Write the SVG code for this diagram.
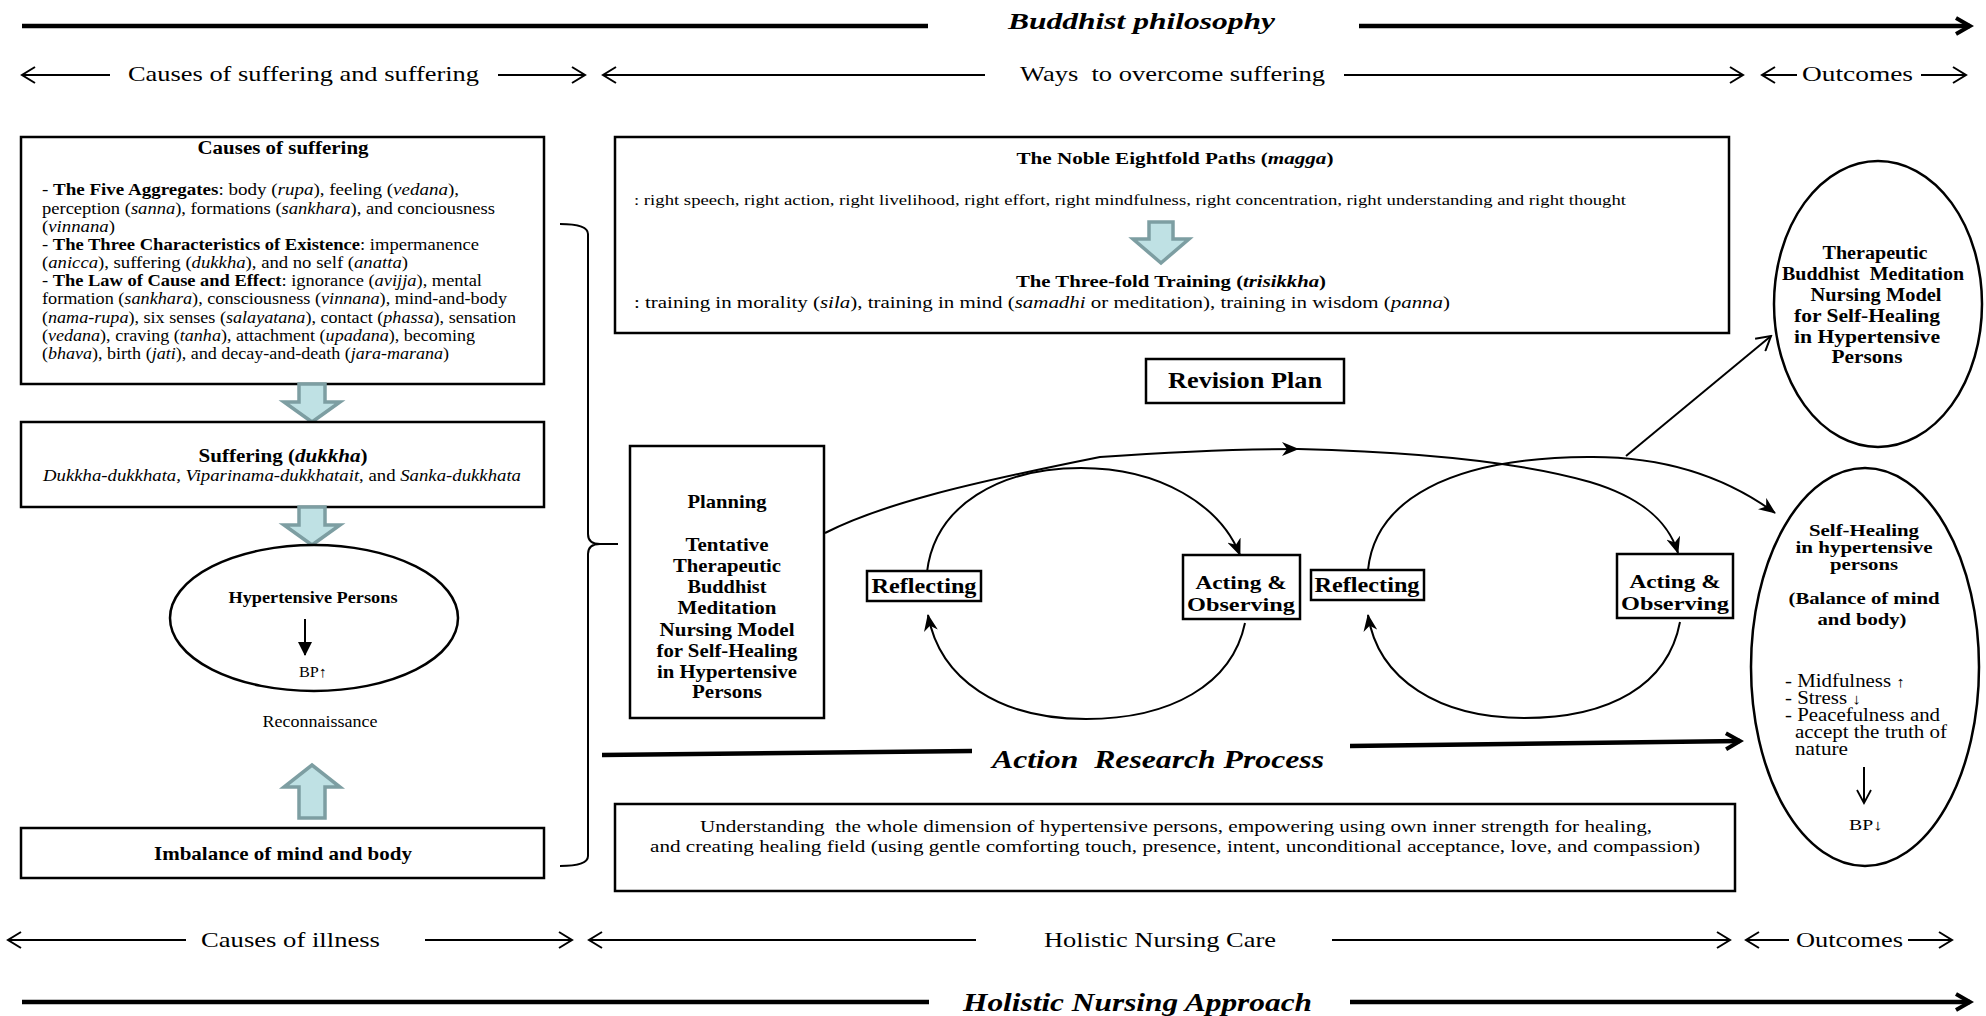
<svg xmlns="http://www.w3.org/2000/svg" width="1986" height="1016" viewBox="0 0 1986 1016">
  <style>
    .t { font-family: "Liberation Serif", "Times New Roman", serif; fill: #000; }
    .b { font-weight: bold; }
    .i { font-style: italic; }
    .c { text-anchor: middle; }
    .box { fill: #fff; stroke: #000; stroke-width: 2.5; }
    .oval { fill: #fff; stroke: #000; stroke-width: 2.5; }
    .ln { stroke: #000; stroke-width: 2; fill: none; }
    .thick { stroke: #000; stroke-width: 4.5; fill: none; }
    .blk { fill: #bfe1e4; stroke: #7d9ea2; stroke-width: 3.5; }
  </style>
  <defs>
    <marker id="chev" viewBox="0 0 16 18" markerWidth="16" markerHeight="18" refX="14" refY="9" orient="auto" markerUnits="userSpaceOnUse">
      <path d="M1,1 L14,9 L1,17" fill="none" stroke="#000" stroke-width="2"/>
    </marker>
    <marker id="chevBold" viewBox="0 0 20 20" markerWidth="20" markerHeight="20" refX="16" refY="10" orient="auto" markerUnits="userSpaceOnUse">
      <path d="M2,2 L16,10 L2,18" fill="none" stroke="#000" stroke-width="4"/>
    </marker>
    <marker id="stealth" viewBox="0 0 17 14" markerWidth="17" markerHeight="14" refX="16" refY="7" orient="auto" markerUnits="userSpaceOnUse">
      <path d="M0,0 L17,7 L0,14 L5,7 Z" fill="#000"/>
    </marker>
    <marker id="openV" viewBox="0 0 18 18" markerWidth="18" markerHeight="18" refX="16" refY="9" orient="auto" markerUnits="userSpaceOnUse">
      <path d="M2,1 L16,9 L2,17" fill="none" stroke="#000" stroke-width="2"/>
    </marker>
    <marker id="smallV" viewBox="0 0 22 16" markerWidth="22" markerHeight="16" refX="14" refY="8" orient="auto" markerUnits="userSpaceOnUse">
      <path d="M1,1 L14,8 L1,15" fill="none" stroke="#000" stroke-width="1.8"/>
    </marker>
    <marker id="solidTri" viewBox="0 0 14 14" markerWidth="14" markerHeight="14" refX="13" refY="7" orient="auto" markerUnits="userSpaceOnUse">
      <path d="M0,0 L14,7 L0,14 Z" fill="#000"/>
    </marker>
  </defs>

  <!-- header band: Buddhist philosophy -->
  <g id="header-buddhist">
    <line class="thick" x1="22" y1="26" x2="928" y2="26"/>
    <text class="t b i" x="1008" y="29" font-size="24" textLength="267" lengthAdjust="spacingAndGlyphs">Buddhist philosophy</text>
    <line class="thick" x1="1359" y1="26" x2="1970" y2="26" marker-end="url(#chevBold)"/>
  </g>

  <!-- phase labels, top row -->
  <g id="phases-top">
    <text class="t" x="128" y="81" font-size="22" textLength="351" lengthAdjust="spacingAndGlyphs">Causes of suffering and suffering</text>
    <text class="t" x="1020" y="81" font-size="22" textLength="305" lengthAdjust="spacingAndGlyphs" xml:space="preserve">Ways  to overcome suffering</text>
    <text class="t" x="1802" y="81" font-size="22" textLength="111" lengthAdjust="spacingAndGlyphs">Outcomes</text>
  </g>

  <!-- left column: causes of suffering -->
  <g id="causes-of-suffering">
    <rect class="box" x="21" y="137" width="523" height="247"/>
    <text class="t b c" x="283" y="154" font-size="18" textLength="171" lengthAdjust="spacingAndGlyphs">Causes of suffering</text>
    <g class="t" font-size="16">
      <text x="42" y="195" textLength="417" lengthAdjust="spacingAndGlyphs">- <tspan class="b">The Five Aggregates</tspan>: body (<tspan class="i">rupa</tspan>), feeling (<tspan class="i">vedana</tspan>),</text>
      <text x="42" y="214" textLength="453" lengthAdjust="spacingAndGlyphs">perception (<tspan class="i">sanna</tspan>), formations (<tspan class="i">sankhara</tspan>), and conciousness</text>
      <text x="42" y="232" textLength="73" lengthAdjust="spacingAndGlyphs">(<tspan class="i">vinnana</tspan>)</text>
      <text x="42" y="250" textLength="437" lengthAdjust="spacingAndGlyphs">- <tspan class="b">The Three Characteristics of Existence</tspan>: impermanence</text>
      <text x="42" y="268" textLength="366" lengthAdjust="spacingAndGlyphs">(<tspan class="i">anicca</tspan>), suffering (<tspan class="i">dukkha</tspan>), and no self (<tspan class="i">anatta</tspan>)</text>
      <text x="42" y="286" textLength="440" lengthAdjust="spacingAndGlyphs">- <tspan class="b">The Law of Cause and Effect</tspan>: ignorance (<tspan class="i">avijja</tspan>), mental</text>
      <text x="42" y="304" textLength="465" lengthAdjust="spacingAndGlyphs">formation (<tspan class="i">sankhara</tspan>), consciousness (<tspan class="i">vinnana</tspan>), mind-and-body</text>
      <text x="42" y="323" textLength="474" lengthAdjust="spacingAndGlyphs">(<tspan class="i">nama-rupa</tspan>), six senses (<tspan class="i">salayatana</tspan>), contact (<tspan class="i">phassa</tspan>), sensation</text>
      <text x="42" y="341" textLength="433" lengthAdjust="spacingAndGlyphs">(<tspan class="i">vedana</tspan>), craving (<tspan class="i">tanha</tspan>), attachment (<tspan class="i">upadana</tspan>), becoming</text>
      <text x="42" y="359" textLength="407" lengthAdjust="spacingAndGlyphs">(<tspan class="i">bhava</tspan>), birth (<tspan class="i">jati</tspan>), and decay-and-death (<tspan class="i">jara-marana</tspan>)</text>
    </g>
  </g>

  <g id="arrow-causes-suffering">
    <path class="blk" d="M299,384 H325 V402 H340 L312,422 L284,402 H299 Z"/>
  </g>

  <g id="suffering">
    <rect class="box" x="21" y="422" width="523" height="85"/>
    <text class="t b c" x="283" y="462" font-size="19" textLength="169" lengthAdjust="spacingAndGlyphs">Suffering (<tspan class="i">dukkha</tspan>)</text>
    <text class="t c" x="282" y="481" font-size="17" textLength="478" lengthAdjust="spacingAndGlyphs"><tspan class="i">Dukkha-dukkhata, Viparinama-dukkhatait</tspan>, and <tspan class="i">Sanka-dukkhata</tspan></text>
  </g>

  <g id="arrow-suffering-persons">
    <path class="blk" d="M299,507 H325 V525 H340 L312,545 L284,525 H299 Z"/>
  </g>

  <g id="hypertensive-persons">
    <ellipse class="oval" cx="314" cy="618" rx="144" ry="73"/>
    <text class="t b c" x="313" y="603" font-size="16.5" textLength="169" lengthAdjust="spacingAndGlyphs">Hypertensive Persons</text>
    <line class="ln" x1="305" y1="619" x2="305" y2="655" marker-end="url(#solidTri)"/>
    <text class="t c" x="313" y="677" font-size="15" textLength="28" lengthAdjust="spacingAndGlyphs">BP<tspan font-weight="bold">↑</tspan></text>
  </g>

  <g id="reconnaissance">
    <text class="t c" x="320" y="727" font-size="16" textLength="115" lengthAdjust="spacingAndGlyphs">Reconnaissance</text>
  </g>

  <g id="arrow-imbalance-up">
    <path class="blk" d="M299,818 H325 V787 H340 L312,765 L284,787 H299 Z"/>
  </g>

  <g id="imbalance">
    <rect class="box" x="21" y="828" width="523" height="50"/>
    <text class="t b c" x="283" y="860" font-size="19" textLength="258" lengthAdjust="spacingAndGlyphs">Imbalance of mind and body</text>
  </g>

  <!-- middle: ways to overcome suffering -->
  <g id="eightfold-path">
    <rect class="box" x="615" y="137" width="1114" height="196"/>
    <text class="t b c" x="1175" y="164" font-size="17" textLength="317" lengthAdjust="spacingAndGlyphs">The Noble Eightfold Paths (<tspan class="i">magga</tspan>)</text>
    <text class="t" x="634" y="205" font-size="15.5" textLength="992" lengthAdjust="spacingAndGlyphs">: right speech, right action, right livelihood, right effort, right mindfulness, right concentration, right understanding and right thought</text>
    <path class="blk" d="M1149,222 H1173 V239 H1189 L1161,263 L1133,239 H1149 Z"/>
    <text class="t b c" x="1171" y="287" font-size="17" textLength="310" lengthAdjust="spacingAndGlyphs">The Three-fold Training (<tspan class="i">trisikkha</tspan>)</text>
    <text class="t" x="634" y="308" font-size="16" textLength="816" lengthAdjust="spacingAndGlyphs">: training in morality (<tspan class="i">sila</tspan>), training in mind (<tspan class="i">samadhi</tspan> or meditation), training in wisdom (<tspan class="i">panna</tspan>)</text>
  </g>

  <g id="revision-plan">
    <rect class="box" x="1146" y="359" width="198" height="44"/>
    <text class="t b c" x="1245" y="388" font-size="24" textLength="154" lengthAdjust="spacingAndGlyphs">Revision Plan</text>
  </g>

  <g id="planning">
    <rect class="box" x="630" y="446" width="194" height="272"/>
    <g class="t b c" font-size="19">
      <text x="727" y="508" textLength="79" lengthAdjust="spacingAndGlyphs">Planning</text>
      <text x="727" y="551" textLength="83" lengthAdjust="spacingAndGlyphs">Tentative</text>
      <text x="727" y="572" textLength="108" lengthAdjust="spacingAndGlyphs">Therapeutic</text>
      <text x="727" y="593" textLength="79" lengthAdjust="spacingAndGlyphs">Buddhist</text>
      <text x="727" y="614" textLength="99" lengthAdjust="spacingAndGlyphs">Meditation</text>
      <text x="727" y="636" textLength="135" lengthAdjust="spacingAndGlyphs">Nursing Model</text>
      <text x="727" y="657" textLength="141" lengthAdjust="spacingAndGlyphs">for Self-Healing</text>
      <text x="727" y="678" textLength="140" lengthAdjust="spacingAndGlyphs">in Hypertensive</text>
      <text x="727" y="698" textLength="70" lengthAdjust="spacingAndGlyphs">Persons</text>
    </g>
  </g>

  <g id="reflecting-1">
    <rect class="box" x="867" y="571" width="114" height="30"/>
    <text class="t b c" x="924" y="593" font-size="21" textLength="105" lengthAdjust="spacingAndGlyphs">Reflecting</text>
  </g>

  <g id="acting-observing-1">
    <rect class="box" x="1183" y="555" width="117" height="64"/>
    <text class="t b c" x="1241" y="589" font-size="19.5" textLength="91" lengthAdjust="spacingAndGlyphs">Acting &amp;</text>
    <text class="t b c" x="1241" y="611" font-size="19.5" textLength="108" lengthAdjust="spacingAndGlyphs">Observing</text>
  </g>

  <g id="reflecting-2">
    <rect class="box" x="1311" y="570" width="113" height="30"/>
    <text class="t b c" x="1367" y="592" font-size="21" textLength="105" lengthAdjust="spacingAndGlyphs">Reflecting</text>
  </g>

  <g id="acting-observing-2">
    <rect class="box" x="1617" y="554" width="116" height="64"/>
    <text class="t b c" x="1675" y="588" font-size="19.5" textLength="91" lengthAdjust="spacingAndGlyphs">Acting &amp;</text>
    <text class="t b c" x="1675" y="610" font-size="19.5" textLength="108" lengthAdjust="spacingAndGlyphs">Observing</text>
  </g>

  <!-- action research process band -->
  <g id="action-research">
    <line class="thick" x1="602" y1="755" x2="972" y2="751"/>
    <text class="t b i" x="992" y="768" font-size="25" textLength="332" lengthAdjust="spacingAndGlyphs" xml:space="preserve">Action  Research Process</text>
    <line class="thick" x1="1350" y1="746" x2="1740" y2="741" marker-end="url(#chevBold)"/>
  </g>

  <g id="holistic-care">
    <rect class="box" x="615" y="804" width="1120" height="87"/>
    <text class="t" x="700" y="832" font-size="17" textLength="952" lengthAdjust="spacingAndGlyphs" xml:space="preserve">Understanding  the whole dimension of hypertensive persons, empowering using own inner strength for healing,</text>
    <text class="t" x="650" y="852" font-size="17" textLength="1050" lengthAdjust="spacingAndGlyphs">and creating healing field (using gentle comforting touch, presence, intent, unconditional acceptance, love, and compassion)</text>
  </g>

  <!-- outcomes -->
  <g id="therapeutic-model">
    <ellipse class="oval" cx="1878" cy="304" rx="104" ry="143"/>
    <g class="t b c" font-size="18">
      <text x="1875" y="259" textLength="105" lengthAdjust="spacingAndGlyphs">Therapeutic</text>
      <text x="1873" y="280" textLength="182" lengthAdjust="spacingAndGlyphs" xml:space="preserve">Buddhist  Meditation</text>
      <text x="1876" y="301" textLength="131" lengthAdjust="spacingAndGlyphs">Nursing Model</text>
      <text x="1867" y="322" textLength="146" lengthAdjust="spacingAndGlyphs">for Self-Healing</text>
      <text x="1867" y="343" textLength="146" lengthAdjust="spacingAndGlyphs">in Hypertensive</text>
      <text x="1867" y="363" textLength="71" lengthAdjust="spacingAndGlyphs">Persons</text>
    </g>
  </g>

  <g id="self-healing">
    <ellipse class="oval" cx="1865" cy="667" rx="114" ry="199"/>
    <g class="t b c" font-size="17">
      <text x="1864" y="536" textLength="110" lengthAdjust="spacingAndGlyphs">Self-Healing</text>
      <text x="1864" y="553" textLength="137" lengthAdjust="spacingAndGlyphs">in hypertensive</text>
      <text x="1864" y="570" textLength="68" lengthAdjust="spacingAndGlyphs">persons</text>
      <text x="1864" y="604" textLength="151" lengthAdjust="spacingAndGlyphs">(Balance of mind</text>
      <text x="1862" y="625" textLength="89" lengthAdjust="spacingAndGlyphs">and body)</text>
    </g>
    <g class="t" font-size="18">
      <text x="1785" y="687" textLength="120" lengthAdjust="spacingAndGlyphs">- Midfulness <tspan font-weight="bold" font-size="15">↑</tspan></text>
      <text x="1785" y="704" textLength="76" lengthAdjust="spacingAndGlyphs">- Stress <tspan font-weight="bold" font-size="15">↓</tspan></text>
      <text x="1785" y="721" textLength="155" lengthAdjust="spacingAndGlyphs">- Peacefulness and</text>
      <text x="1795" y="738" textLength="152" lengthAdjust="spacingAndGlyphs">accept the truth of</text>
      <text x="1795" y="755" textLength="53" lengthAdjust="spacingAndGlyphs">nature</text>
    </g>
    <line class="ln" x1="1864" y1="767" x2="1864" y2="803" marker-end="url(#smallV)"/>
    <text class="t c" x="1866" y="830" font-size="15" textLength="34" lengthAdjust="spacingAndGlyphs">BP<tspan font-weight="bold">↓</tspan></text>
  </g>

  <!-- bottom band: holistic nursing -->
  <g id="phases-bottom">
    <text class="t" x="201" y="947" font-size="22" textLength="179" lengthAdjust="spacingAndGlyphs">Causes of illness</text>
    <text class="t" x="1044" y="947" font-size="22" textLength="232" lengthAdjust="spacingAndGlyphs">Holistic Nursing Care</text>
    <text class="t" x="1796" y="947" font-size="22" textLength="107" lengthAdjust="spacingAndGlyphs">Outcomes</text>
  </g>

  <g id="header-holistic">
    <line class="thick" x1="22" y1="1002" x2="929" y2="1002"/>
    <text class="t b i" x="963" y="1011" font-size="26" textLength="349" lengthAdjust="spacingAndGlyphs">Holistic Nursing Approach</text>
    <line class="thick" x1="1350" y1="1002" x2="1970" y2="1002" marker-end="url(#chevBold)"/>
  </g>

  <!-- connectors -->
  <g id="connectors">
    <!-- phase arrows, top row -->
    <line class="ln" x1="110" y1="75" x2="22" y2="75" marker-end="url(#chev)"/>
    <line class="ln" x1="498" y1="75" x2="585" y2="75" marker-end="url(#chev)"/>
    <line class="ln" x1="985" y1="75" x2="603" y2="75" marker-end="url(#chev)"/>
    <line class="ln" x1="1344" y1="75" x2="1743" y2="75" marker-end="url(#chev)"/>
    <line class="ln" x1="1797" y1="75" x2="1762" y2="75" marker-end="url(#chev)"/>
    <line class="ln" x1="1921" y1="75" x2="1966" y2="75" marker-end="url(#chev)"/>

    <!-- phase arrows, bottom row -->
    <line class="ln" x1="186" y1="940" x2="8" y2="940" marker-end="url(#chev)"/>
    <line class="ln" x1="425" y1="940" x2="572" y2="940" marker-end="url(#chev)"/>
    <line class="ln" x1="976" y1="940" x2="589" y2="940" marker-end="url(#chev)"/>
    <line class="ln" x1="1332" y1="940" x2="1730" y2="940" marker-end="url(#chev)"/>
    <line class="ln" x1="1789" y1="940" x2="1746" y2="940" marker-end="url(#chev)"/>
    <line class="ln" x1="1908" y1="940" x2="1952" y2="940" marker-end="url(#chev)"/>

    <!-- left-column brace into planning -->
    <path class="ln" d="M560,224 Q588,224 588,234 L588,534 Q588,544 600,544 Q588,544 588,554 L588,856 Q588,866 560,866"/>
    <line class="ln" x1="598" y1="544" x2="618" y2="544"/>

    <!-- planning to revision plan and second cycle -->
    <path class="ln" d="M825,533 C880,505 960,485 1100,457 C1170,452 1230,449 1298,449" marker-end="url(#stealth)"/>
    <path class="ln" d="M1298,449 C1420,452 1520,462 1590,482 C1640,497 1668,520 1678,553" marker-end="url(#stealth)"/>

    <!-- first cycle -->
    <path class="ln" d="M927,572 C935,505 1000,468 1081,468 C1160,468 1220,505 1240,555" marker-end="url(#stealth)"/>
    <path class="ln" d="M1245,623 C1232,685 1170,719 1086,719 C1000,719 940,680 928,615" marker-end="url(#stealth)"/>

    <!-- second cycle -->
    <path class="ln" d="M1368,570 C1375,500 1450,458 1588,457 C1670,456 1730,480 1775,513" marker-end="url(#stealth)"/>
    <path class="ln" d="M1680,622 C1668,685 1610,718 1524,718 C1440,718 1378,680 1368,615" marker-end="url(#stealth)"/>

    <!-- cycle to therapeutic model -->
    <line class="ln" x1="1626" y1="456" x2="1771" y2="336" marker-end="url(#openV)"/>
  </g>
</svg>
